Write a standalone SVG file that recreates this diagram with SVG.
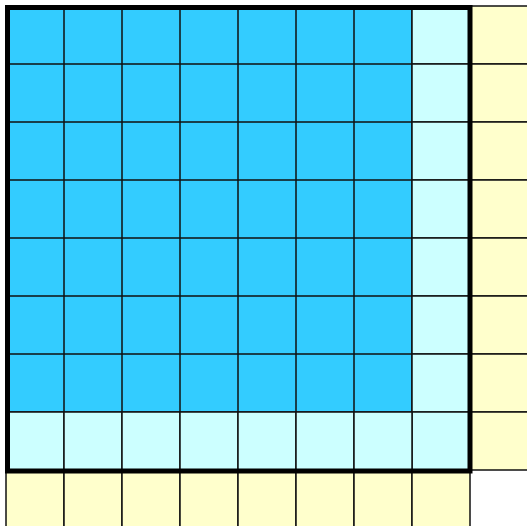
<svg xmlns="http://www.w3.org/2000/svg" width="527" height="526" viewBox="0 0 527 526">
<style>
.c{stroke:#111;stroke-width:1.5}
.b{fill:#33CCFF}
.l{fill:#CCFFFF}
.y{fill:#FFFFCC}
.o{fill:none;stroke:#000;stroke-width:5}
</style>
<rect width="527" height="526" fill="#fff"/>
<defs>
<rect id="cell" width="58" height="58"/>
</defs>
<g id="blue">
<rect class="c b" x="6" y="6" width="406" height="406"/>
</g>
<g id="cells">
<!-- blue grid -->
<path class="c" fill="none" d="M64 6V412M122 6V412M180 6V412M238 6V412M296 6V412M354 6V412M6 64H412M6 122H412M6 180H412M6 238H412M6 296H412M6 354H412"/>
<!-- light cyan column and row -->
<rect class="c l" x="412" y="6" width="58" height="58"/>
<rect class="c l" x="412" y="64" width="58" height="58"/>
<rect class="c l" x="412" y="122" width="58" height="58"/>
<rect class="c l" x="412" y="180" width="58" height="58"/>
<rect class="c l" x="412" y="238" width="58" height="58"/>
<rect class="c l" x="412" y="296" width="58" height="58"/>
<rect class="c l" x="412" y="354" width="58" height="58"/>
<rect class="c l" x="412" y="412" width="58" height="58"/>
<rect class="c l" x="6" y="412" width="58" height="58"/>
<rect class="c l" x="64" y="412" width="58" height="58"/>
<rect class="c l" x="122" y="412" width="58" height="58"/>
<rect class="c l" x="180" y="412" width="58" height="58"/>
<rect class="c l" x="238" y="412" width="58" height="58"/>
<rect class="c l" x="296" y="412" width="58" height="58"/>
<rect class="c l" x="354" y="412" width="58" height="58"/>
<!-- yellow column and row -->
<rect class="c y" x="470" y="6" width="58" height="58"/>
<rect class="c y" x="470" y="64" width="58" height="58"/>
<rect class="c y" x="470" y="122" width="58" height="58"/>
<rect class="c y" x="470" y="180" width="58" height="58"/>
<rect class="c y" x="470" y="238" width="58" height="58"/>
<rect class="c y" x="470" y="296" width="58" height="58"/>
<rect class="c y" x="470" y="354" width="58" height="58"/>
<rect class="c y" x="470" y="412" width="58" height="58"/>
<rect class="c y" x="6" y="470" width="58" height="58"/>
<rect class="c y" x="64" y="470" width="58" height="58"/>
<rect class="c y" x="122" y="470" width="58" height="58"/>
<rect class="c y" x="180" y="470" width="58" height="58"/>
<rect class="c y" x="238" y="470" width="58" height="58"/>
<rect class="c y" x="296" y="470" width="58" height="58"/>
<rect class="c y" x="354" y="470" width="58" height="58"/>
<rect class="c y" x="412" y="470" width="58" height="58"/>
</g>
<g id="outline">
<rect class="o" x="7.5" y="7.5" width="462.5" height="463.5"/>
</g>
</svg>
